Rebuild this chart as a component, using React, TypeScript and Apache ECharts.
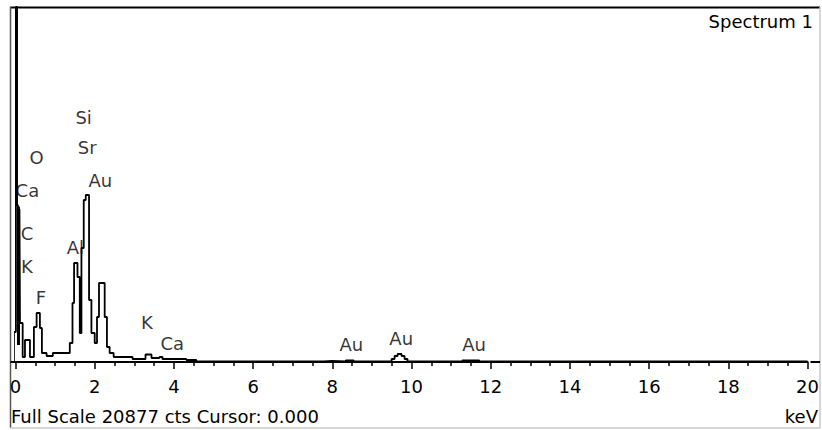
import { useEffect, useRef } from "react";
import * as echarts from "echarts";

// Spectrum (step levels; each level starts at the given energy, keV)
const energies = [
  -0.09, -0.04, 0.01, 0.04, 0.06, 0.07, 0.09, 0.1, 0.113, 0.181, 0.239, 0.365, 0.465, 0.533, 0.616, 0.667,
  0.785, 0.943, 1.371, 1.439, 1.479, 1.565, 1.623, 1.665, 1.723, 1.774, 1.857, 1.917,
  2.0, 2.058, 2.108, 2.252, 2.309, 2.377, 2.478, 2.956, 3.283, 3.434, 3.635, 3.711,
  4.314, 4.566, 7.786, 7.987, 8.34, 8.541, 9.497, 9.572, 9.648, 9.748, 9.824, 9.899,
  11.283, 11.711, 20.0,
];
const counts = [
  0, 1764, 20877, 9233, 1000, 9100, 1000, 9000, 2294, 294, 1294, 294, 2058, 2882, 2000, 529,
  353, 529, 1117, 3470, 5822, 4999, 1705, 6704, 9527, 9821, 3646, 1705,
  1117, 2646, 4646, 2646, 882, 529, 294, 176, 441, 235, 294, 176,
  118, 29, 59, 29, 88, 29, 176, 353, 470, 353, 176, 29,
  88, 29, 29,
];

// Element labels
const peakLabels = ["Si", "Sr", "Au", "O", "Ca", "C", "K", "F", "Al", "K", "Ca", "Au", "Au", "Au"];
const peakEnergies = [1.72, 1.81, 2.14, 0.53, 0.3, 0.29, 0.29, 0.64, 1.51, 3.32, 3.96, 8.48, 9.74, 11.58];
const peakLabelCounts = [14350, 12640, 10700, 12050, 10110, 7585, 5590, 3820, 6760, 2295, 1117, 1000, 1411, 1000];

const FULL_SCALE = 20877;
const X_MIN = 0;
const X_MAX = 20;
const X_STEP = 2;
const TITLE = "Spectrum 1";
const X_UNIT = "keV";
const CURSOR = "0.000";

const FONT = '"DejaVu Sans", sans-serif';

export default function App() {
  const ref = useRef<HTMLDivElement>(null);

  useEffect(() => {
    if (!ref.current) return;
    const chart = echarts.init(ref.current, null, { renderer: "svg" });

    const lineData = energies.map((e, i) => [e, counts[i]]);
    const labelData = peakLabels.map((n, i) => ({ name: n, value: [peakEnergies[i], peakLabelCounts[i]] }));

    chart.setOption({
      animation: false,
      backgroundColor: "#fff",
      grid: { left: 15.5, right: 11.5, top: 7, bottom: 68, containLabel: false },
      xAxis: {
        type: "value",
        min: X_MIN,
        max: X_MAX,
        interval: X_STEP,
        axisLine: { show: true, lineStyle: { color: "#000", width: 2 } },
        axisTick: { show: true, length: 7, lineStyle: { color: "#000", width: 1.5 } },
        minorTick: { show: true, splitNumber: 4, length: 4, lineStyle: { color: "#000", width: 1.5 } },
        splitLine: { show: false },
        axisLabel: {
          color: "#000",
          fontSize: 18,
          fontFamily: FONT,
          margin: 15,
          formatter: (v: number) => String(v),
        },
      },
      yAxis: {
        type: "value",
        min: 0,
        max: FULL_SCALE,
        show: false,
        splitLine: { show: false },
      },
      series: [
        {
          type: "line",
          data: lineData,
          step: "end",
          showSymbol: false,
          clip: false,
          lineStyle: { color: "#000", width: 1.8 },
          z: 2,
        },
        {
          type: "scatter",
          data: labelData,
          symbolSize: 0.1,
          itemStyle: { color: "rgba(0,0,0,0)" },
          label: {
            show: true,
            position: "inside",
            formatter: (p: any) => p.name,
            color: "#000",
            fontSize: 18,
            fontFamily: FONT,
          },
          z: 3,
        },
      ],
      graphic: [
        // frame
        { type: "line", shape: { x1: 10, y1: 7.5, x2: 820, y2: 7.5 }, style: { stroke: "#000", lineWidth: 2 } },
        { type: "line", shape: { x1: 10.5, y1: 7, x2: 10.5, y2: 428 }, style: { stroke: "#555", lineWidth: 1.5 } },
        { type: "line", shape: { x1: 820, y1: 7, x2: 820, y2: 428 }, style: { stroke: "#c8c8c8", lineWidth: 1.5 } },
        { type: "line", shape: { x1: 10, y1: 428, x2: 820, y2: 428 }, style: { stroke: "#c8c8c8", lineWidth: 1.5 } },
        // axis line extensions
        { type: "line", shape: { x1: 10.5, y1: 362, x2: 15.5, y2: 362 }, style: { stroke: "#000", lineWidth: 2 } },
        { type: "line", shape: { x1: 810.5, y1: 362, x2: 820, y2: 362 }, style: { stroke: "#000", lineWidth: 2 } },
        // texts
        {
          type: "text",
          x: 813,
          y: 21.5,
          style: { text: TITLE, fill: "#000", fontSize: 18, fontFamily: FONT, align: "right", verticalAlign: "middle" },
        },
        {
          type: "text",
          x: 11,
          y: 416,
          style: {
            text: `Full Scale ${FULL_SCALE} cts Cursor: ${CURSOR}`,
            fill: "#000",
            fontSize: 18,
            fontFamily: FONT,
            align: "left",
            verticalAlign: "middle",
          },
        },
        {
          type: "text",
          x: 818,
          y: 416,
          style: { text: X_UNIT, fill: "#000", fontSize: 18, fontFamily: FONT, align: "right", verticalAlign: "middle" },
        },
      ],
    });

    return () => chart.dispose();
  }, []);

  return (
    <div
      ref={ref}
      style={{ position: "fixed", left: 0, top: 0, width: 822, height: 430, background: "#fff" }}
    />
  );
}
